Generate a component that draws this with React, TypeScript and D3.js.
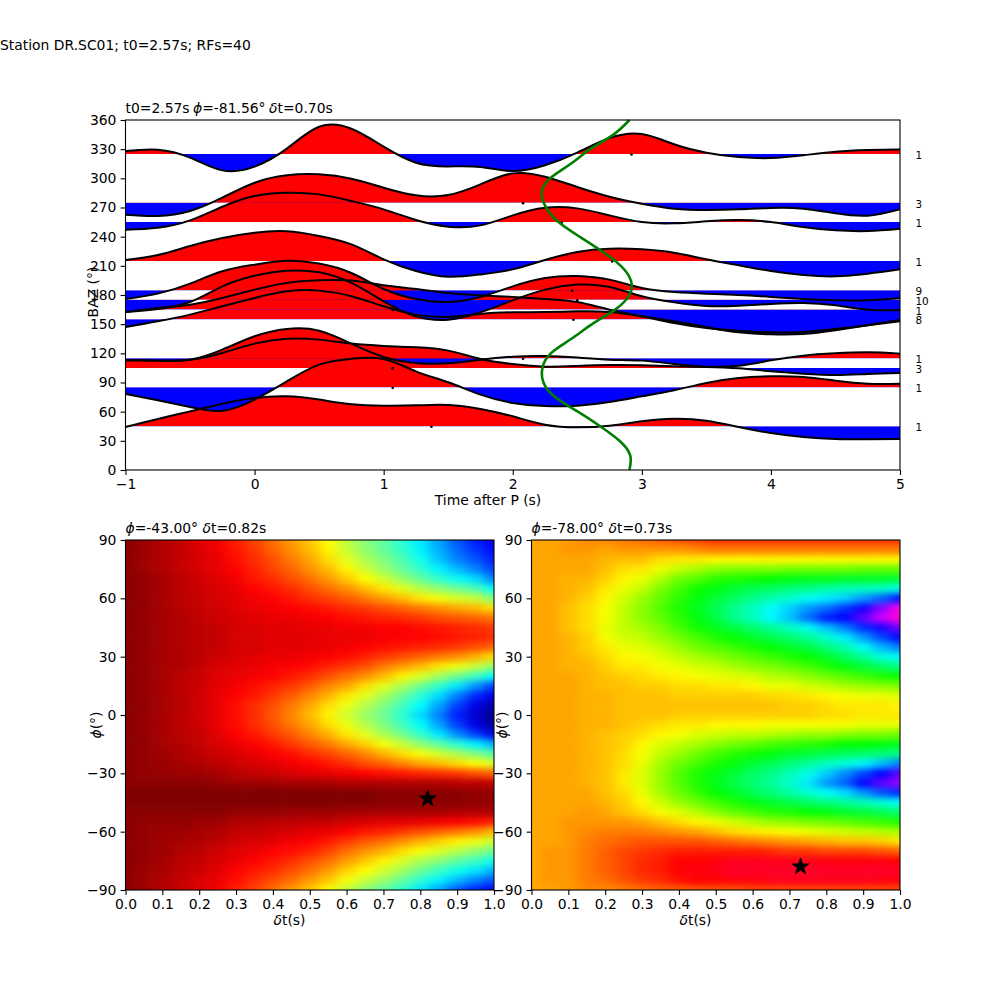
import { useEffect, useRef } from 'react';
import * as d3 from 'd3';

// time knots shared by all the traces
const traceTimes = [-1, -0.75, -0.5, -0.25, 0, 0.25, 0.5, 0.75, 1, 1.25, 1.5, 1.75, 2, 2.25, 2.5, 2.75, 3, 3.25, 3.5, 3.75, 4, 4.25, 4.5, 4.75, 5];

const traceBaz = [45, 85, 105, 115, 155, 165, 175, 185, 215, 255, 275, 325];
const traceCounts = [1, 1, 3, 1, 8, 1, 10, 9, 1, 1, 3, 1];
const traceDotTimes = [1.37, 1.07, 1.07, 2.08, 2.47, 1.07, 2.5, 2.46, 2.77, 2.38, 2.08, 2.92];

const trace45 = [44.2, 52.5, 60.3, 68.2, 74.1, 75.8, 72.4, 67.6, 66.2, 66.5, 66.9, 62.8, 55.2, 46.6, 43.9, 45.6, 50.1, 52.8, 50.7, 44.2, 38, 33.9, 31.9, 31.6, 31.9];
const trace85 = [78.2, 71.7, 64.8, 61, 72.4, 91.2, 108.4, 114.5, 114.2, 101.5, 90.2, 77.5, 68.9, 65.8, 66.2, 70, 75.8, 82, 89.5, 94.6, 96.4, 95.7, 91.9, 88.8, 88.8];
const trace105 = [112.8, 112.5, 113.5, 120.4, 130, 135.1, 134.1, 130, 127.6, 126.2, 122.8, 114.2, 109, 106.3, 107, 108, 107.7, 106.6, 106, 104.6, 101.5, 99.1, 97.7, 98.8, 99.8];
const trace115 = [112.8, 112.5, 113.5, 123.8, 137.5, 145, 143.3, 129.9, 116.2, 110.1, 109.7, 113.5, 116.6, 117.3, 115.6, 113.5, 112.5, 109, 106.3, 107.3, 112.8, 117.6, 120, 121, 119.7];
const trace155 = [147.1, 152.9, 159.8, 168.4, 176.9, 183.8, 184.5, 178.7, 168.4, 159.8, 157.4, 160.5, 162.2, 162.5, 163.2, 162.5, 158.1, 152.9, 147.1, 141.6, 139.6, 139.9, 143.7, 148.8, 154.3];
const trace165 = [162.5, 166.6, 170, 176.9, 185.5, 192.4, 195.1, 194.8, 190, 186.2, 182.1, 179.7, 178, 175.9, 172.8, 164.9, 158.1, 151.2, 146.1, 143.3, 141.6, 142, 145, 148.8, 152.9];
const trace175 = [162.5, 165.6, 172.8, 188.9, 199.9, 205, 203.3, 192.4, 173.5, 158.1, 154.6, 162.2, 174.5, 185.5, 190.7, 188.3, 178.7, 172.5, 168.7, 169, 170.8, 171.8, 169.4, 164.9, 164.3];
const trace185 = [175.9, 181.4, 191.7, 204.4, 211.2, 215.3, 212.3, 202.6, 186.2, 175.9, 172.8, 178, 188.9, 197.5, 199.6, 195.8, 187.2, 183.1, 181.4, 180, 178, 175.9, 174.5, 174.5, 176.6];
const trace215 = [216, 221.1, 230.4, 238.6, 244.1, 245.5, 240.7, 232.1, 216.7, 204.7, 198.8, 201.2, 206.4, 216, 224.2, 227.6, 227, 223.5, 216.7, 210.5, 204.7, 200.6, 199.2, 201.9, 206.4];
const trace255 = [247.2, 249.2, 256.8, 270.8, 281.8, 285.2, 283.5, 276.7, 268.1, 257.1, 250.3, 251.6, 261.9, 269.8, 269.1, 261.9, 255, 253.7, 255.8, 257.1, 255, 249.9, 246.5, 245.8, 248.2];
const trace275 = [262.6, 261.2, 266.4, 280.1, 295.5, 303.1, 304.1, 299.6, 290.4, 282.5, 282.8, 293.8, 305.1, 301.7, 291.1, 281.1, 273.9, 268.8, 267.4, 268.1, 269.5, 268.8, 264, 261.6, 268.1];
const trace325 = [328.1, 329.5, 321.3, 308.2, 312, 330.6, 353, 351, 332.6, 316.1, 312.3, 311.7, 307.5, 313.4, 326.4, 341.5, 345.6, 335, 326.4, 321.9, 320.9, 323.7, 327.4, 329.1, 329.8];
const traces = [trace45, trace85, trace105, trace115, trace155, trace165, trace175, trace185, trace215, trace255, trace275, trace325];

// predicted arrival curve
const curveBaz = [0, 15, 30, 45, 60, 75, 90, 105, 120, 135, 150, 165, 180, 195, 210, 225, 240, 255, 270, 285, 300, 315, 330, 345, 360];
const curveTime = [2.904, 2.91, 2.827, 2.677, 2.504, 2.328, 2.238, 2.23, 2.295, 2.455, 2.615, 2.793, 2.904, 2.915, 2.837, 2.69, 2.517, 2.354, 2.258, 2.225, 2.289, 2.45, 2.6, 2.78, 2.904];

// energy grids: one column per delay, rows run from phi=90 down to phi=-90
const gridDelays = d3.range(21).map((i) => i * 0.05);
const gridPhis = d3.range(37).map((i) => 90 - i * 5);

const gridLeft = [
  [1, 1, 1, 1, 1, 1, 1, 1, 1, 1, 1, 1, 1, 1, 1, 1, 1, 1, 1, 1, 1, 1, 1, 1, 1, 1, 0, 0, 1, 1, 1, 1, 1, 1, 1, 1, 1],
  [3, 3, 3, 3, 2, 2, 2, 2, 2, 2, 2, 2, 2, 2, 2, 2, 2, 2, 2, 2, 2, 2, 2, 2, 2, 1, 0, 0, 1, 2, 2, 2, 2, 2, 3, 3, 3],
  [5, 5, 5, 5, 4, 4, 4, 4, 4, 4, 4, 4, 4, 4, 4, 4, 4, 4, 4, 4, 4, 4, 3, 3, 2, 1, 0, 0, 1, 2, 3, 3, 3, 4, 4, 5, 5],
  [7, 7, 7, 7, 6, 6, 6, 6, 5, 5, 5, 5, 5, 5, 6, 6, 6, 6, 6, 6, 6, 5, 5, 4, 3, 1, 0, 0, 1, 2, 3, 4, 5, 6, 6, 7, 7],
  [10, 9, 9, 9, 8, 8, 7, 7, 7, 6, 6, 6, 6, 7, 7, 8, 8, 8, 8, 8, 7, 7, 6, 5, 3, 1, 0, 0, 1, 3, 4, 5, 6, 7, 8, 9, 10],
  [12, 12, 11, 11, 10, 9, 9, 8, 8, 7, 7, 7, 8, 9, 10, 10, 11, 11, 11, 11, 10, 9, 8, 6, 4, 2, 0, 0, 1, 3, 5, 6, 8, 9, 10, 11, 12],
  [16, 15, 14, 13, 12, 11, 10, 10, 9, 9, 9, 9, 9, 10, 11, 12, 13, 14, 14, 14, 13, 11, 9, 8, 6, 3, 0, 0, 2, 5, 7, 8, 10, 11, 13, 14, 16],
  [19, 18, 17, 16, 15, 13, 12, 11, 10, 9, 9, 9, 10, 11, 12, 14, 15, 17, 17, 17, 15, 13, 11, 9, 7, 3, 0, 0, 2, 5, 7, 9, 11, 13, 15, 17, 19],
  [23, 22, 20, 19, 17, 15, 13, 12, 11, 10, 10, 10, 11, 12, 13, 16, 18, 20, 21, 20, 18, 15, 13, 10, 8, 3, 0, 0, 2, 6, 8, 10, 13, 15, 17, 20, 23],
  [27, 26, 24, 22, 20, 17, 15, 13, 11, 10, 10, 10, 11, 13, 15, 18, 21, 24, 25, 24, 21, 18, 14, 12, 9, 4, 0, 0, 3, 6, 9, 12, 14, 17, 20, 23, 27],
  [31, 30, 28, 26, 23, 20, 17, 14, 12, 11, 10, 11, 12, 14, 17, 21, 25, 28, 30, 28, 25, 21, 17, 13, 10, 4, 0, 0, 3, 7, 10, 13, 16, 20, 23, 27, 31],
  [36, 35, 33, 30, 27, 23, 19, 15, 13, 11, 11, 11, 13, 16, 20, 25, 29, 33, 35, 33, 29, 24, 19, 15, 11, 4, 0, 0, 3, 7, 11, 15, 19, 23, 27, 31, 36],
  [43, 42, 39, 35, 31, 26, 21, 17, 14, 12, 11, 12, 14, 18, 23, 28, 34, 38, 41, 38, 34, 28, 22, 17, 12, 5, 0, 0, 4, 8, 13, 18, 23, 27, 32, 37, 43],
  [49, 48, 45, 41, 36, 30, 24, 18, 15, 12, 11, 13, 16, 20, 26, 33, 39, 44, 47, 44, 39, 32, 25, 20, 13, 5, 0, 0, 4, 9, 15, 21, 26, 31, 36, 42, 49],
  [54, 53, 50, 47, 41, 34, 27, 20, 16, 13, 12, 14, 18, 24, 30, 39, 45, 50, 52, 50, 45, 37, 29, 22, 14, 5, 1, 1, 4, 10, 16, 23, 29, 35, 41, 47, 54],
  [60, 59, 56, 53, 47, 39, 30, 22, 17, 13, 13, 15, 20, 27, 35, 45, 52, 57, 60, 57, 51, 42, 33, 25, 15, 5, 1, 1, 4, 10, 18, 26, 33, 40, 46, 53, 60],
  [67, 66, 63, 59, 53, 44, 34, 24, 18, 14, 13, 16, 22, 30, 40, 52, 60, 65, 68, 65, 59, 48, 37, 28, 16, 5, 1, 1, 4, 11, 20, 29, 37, 45, 52, 60, 67],
  [73, 72, 70, 66, 59, 48, 37, 26, 20, 15, 14, 17, 24, 34, 46, 59, 68, 73, 76, 73, 67, 54, 41, 30, 17, 5, 1, 1, 4, 12, 22, 32, 40, 49, 58, 66, 73],
  [80, 78, 76, 71, 64, 52, 40, 28, 21, 16, 15, 18, 26, 38, 52, 67, 76, 82, 85, 82, 75, 60, 45, 33, 18, 6, 1, 1, 5, 13, 24, 35, 44, 54, 63, 71, 80],
  [85, 83, 80, 76, 68, 56, 42, 30, 22, 17, 16, 20, 29, 42, 58, 74, 84, 90, 92, 90, 82, 66, 50, 36, 20, 6, 2, 2, 5, 14, 26, 38, 48, 58, 67, 76, 85],
  [89, 87, 85, 82, 76, 65, 50, 33, 24, 18, 17, 22, 33, 48, 65, 82, 90, 96, 99, 97, 90, 72, 55, 40, 22, 7, 2, 2, 5, 16, 30, 42, 52, 63, 72, 80, 89],
];

const gridRight = [
  [15, 15, 15, 15, 15, 15, 15, 15, 15, 15, 15, 15, 15, 15, 15, 15, 15, 15, 15, 15, 15, 15, 15, 15, 15, 15, 15, 15, 15, 15, 15, 15, 15, 15, 15, 15, 15],
  [15, 15, 15, 15, 15, 15, 15, 15, 15, 15, 15, 15, 15, 15, 15, 15, 15, 15, 15, 15, 15, 15, 15, 15, 15, 15, 15, 15, 15, 15, 15, 15, 14, 14, 14, 14, 15],
  [14, 14, 15, 15, 16, 16, 16, 17, 17, 17, 16, 16, 16, 16, 15, 15, 15, 15, 15, 15, 15, 15, 15, 15, 15, 15, 15, 15, 15, 14, 14, 14, 14, 14, 14, 14, 14],
  [13, 14, 15, 15, 16, 17, 18, 19, 19, 19, 18, 18, 17, 16, 16, 16, 16, 16, 16, 16, 16, 16, 16, 16, 16, 16, 15, 15, 14, 14, 13, 12, 12, 12, 12, 12, 13],
  [13, 15, 16, 17, 18, 20, 21, 22, 22, 23, 22, 20, 19, 18, 17, 17, 16, 16, 16, 16, 17, 17, 17, 17, 17, 17, 17, 16, 15, 14, 12, 11, 10, 10, 10, 11, 13],
  [12, 14, 17, 19, 21, 23, 25, 26, 26, 26, 25, 23, 21, 20, 18, 17, 17, 17, 17, 17, 18, 18, 19, 19, 20, 20, 19, 18, 17, 14, 12, 10, 8, 8, 8, 9, 12],
  [11, 14, 17, 20, 23, 26, 29, 30, 30, 28, 26, 24, 22, 20, 19, 18, 17, 17, 17, 18, 19, 21, 22, 23, 24, 24, 23, 21, 19, 15, 12, 9, 7, 6, 6, 7, 11],
  [10, 14, 19, 23, 27, 31, 33, 34, 33, 31, 29, 26, 24, 22, 20, 18, 17, 17, 17, 19, 21, 24, 26, 28, 29, 29, 28, 25, 22, 17, 13, 9, 6, 5, 5, 6, 10],
  [9, 14, 20, 26, 32, 35, 37, 38, 37, 35, 32, 29, 26, 23, 21, 19, 18, 17, 18, 20, 22, 26, 29, 32, 34, 34, 32, 29, 24, 19, 14, 9, 5, 3, 3, 4, 10],
  [8, 13, 20, 28, 34, 39, 41, 42, 41, 39, 35, 32, 28, 25, 22, 19, 18, 17, 18, 20, 24, 28, 32, 35, 38, 38, 36, 32, 27, 21, 15, 9, 5, 3, 2, 3, 9],
  [7, 12, 21, 30, 37, 41, 44, 46, 45, 42, 38, 34, 30, 26, 23, 20, 18, 17, 18, 21, 25, 30, 35, 38, 41, 42, 40, 35, 30, 23, 17, 10, 5, 2, 1, 3, 9],
  [7, 12, 21, 31, 38, 44, 47, 50, 50, 45, 40, 36, 32, 28, 24, 20, 18, 17, 18, 21, 26, 32, 37, 41, 44, 45, 43, 38, 33, 25, 19, 11, 5, 1, 0, 2, 9],
  [7, 12, 21, 31, 39, 46, 50, 54, 54, 48, 43, 38, 34, 30, 25, 21, 18, 17, 18, 21, 26, 33, 39, 44, 47, 48, 46, 41, 35, 27, 20, 12, 5, 1, 0, 2, 8],
  [7, 12, 21, 31, 40, 47, 53, 58, 59, 51, 46, 40, 36, 31, 27, 23, 19, 17, 18, 22, 27, 35, 41, 46, 50, 51, 49, 43, 37, 29, 21, 13, 6, 1, 0, 1, 8],
  [7, 12, 21, 32, 41, 49, 55, 62, 63, 54, 48, 43, 38, 33, 28, 23, 19, 18, 18, 22, 28, 36, 43, 49, 53, 55, 52, 45, 38, 30, 22, 14, 7, 1, 0, 1, 8],
  [7, 12, 21, 32, 42, 50, 58, 66, 69, 58, 51, 45, 40, 35, 30, 25, 20, 18, 18, 22, 29, 37, 44, 51, 57, 60, 55, 47, 40, 31, 23, 15, 7, 1, 0, 1, 8],
  [7, 12, 21, 32, 42, 52, 60, 69, 75, 63, 55, 49, 43, 38, 32, 26, 21, 19, 19, 22, 29, 38, 46, 54, 62, 66, 58, 49, 41, 32, 24, 16, 8, 2, 0, 1, 8],
  [7, 12, 21, 32, 43, 53, 62, 73, 77, 68, 60, 53, 47, 41, 34, 28, 22, 20, 19, 22, 30, 40, 47, 56, 67, 70, 61, 51, 43, 33, 25, 17, 8, 2, 0, 1, 8],
  [7, 12, 21, 33, 43, 54, 66, 78, 84, 74, 66, 58, 51, 44, 36, 29, 23, 20, 20, 23, 31, 40, 48, 59, 72, 77, 66, 53, 44, 35, 26, 17, 8, 2, 0, 1, 8],
  [7, 12, 21, 33, 43, 55, 70, 87, 92, 79, 72, 64, 56, 47, 38, 30, 23, 20, 20, 23, 31, 41, 49, 63, 77, 84, 71, 56, 46, 36, 27, 18, 9, 2, 0, 2, 8],
  [7, 12, 21, 33, 44, 57, 76, 97, 99, 86, 77, 68, 59, 50, 40, 31, 24, 21, 20, 23, 32, 42, 50, 68, 84, 88, 74, 58, 48, 38, 28, 20, 10, 3, 0, 2, 8],
];

const titleTop = [['t0=2.57s ', false], ['\u03d5', true], ['=-81.56\u00b0 ', false], ['\u03b4', true], ['t=0.70s', false]];
const titleLeft = [['\u03d5', true], ['=-43.00\u00b0 ', false], ['\u03b4', true], ['t=0.82s', false]];
const titleRight = [['\u03d5', true], ['=-78.00\u00b0 ', false], ['\u03b4', true], ['t=0.73s', false]];

const FONT = '"DejaVu Sans"';

const jetR = d3
  .scaleLinear<string>()
  .domain([0, 0.13, 0.36, 0.5, 0.65, 0.875, 1].map((d) => d * 100))
  .range(['#800000', '#ff0000', '#ffff00', '#80ff80', '#00ffff', '#0000ff', '#000080'])
  .clamp(true);

const gistRainbow = d3
  .scaleLinear<string>()
  .domain([0, 0.03, 0.215, 0.4, 0.586, 0.77, 0.954, 1].map((d) => d * 100))
  .range(['#ff0029', '#ff0000', '#ffff00', '#00ff00', '#00ffff', '#0000ff', '#ff00ff', '#ff00bf'])
  .clamp(true);

type Sel = d3.Selection<SVGSVGElement, unknown, null, undefined>;

function addTitle(svg: Sel, x: number, y: number, parts: (string | boolean)[][], wordSpacing = 0) {
  const t = svg
    .append('text')
    .attr('x', x)
    .attr('y', y)
    .attr('font-family', FONT)
    .attr('font-size', 13.9)
    .attr('word-spacing', wordSpacing)
    .style('white-space', 'pre');
  parts.forEach(([s, it]) => {
    t.append('tspan').attr('font-style', it ? 'italic' : 'normal').text(s as string);
  });
}

function addAxes(svg: Sel, x: d3.ScaleLinear<number, number>, y: d3.ScaleLinear<number, number>, xTicks: number[], yTicks: number[], xFmt: (d: number) => string) {
  const minus = (s: string) => s.replace('-', '\u2212');
  const [y0] = y.range();
  const [x0] = x.range();
  const gx = svg
    .append('g')
    .attr('transform', `translate(0,${y0})`)
    .call(d3.axisBottom(x).tickValues(xTicks).tickSize(4.9).tickPadding(4.2).tickSizeOuter(0).tickFormat((d) => minus(xFmt(d as number))));
  const gy = svg
    .append('g')
    .attr('transform', `translate(${x0},0)`)
    .call(d3.axisLeft(y).tickValues(yTicks).tickSize(4.9).tickPadding(4.2).tickSizeOuter(0).tickFormat((d) => minus(String(d))));
  [gx, gy].forEach((g) => {
    g.attr('font-family', FONT).attr('font-size', 13.9);
    g.selectAll('line').attr('stroke', '#000').attr('stroke-width', 1.1);
    g.selectAll('text').attr('fill', '#000');
    g.select('.domain').remove();
  });
  svg
    .append('rect')
    .attr('x', x.range()[0])
    .attr('y', y.range()[1])
    .attr('width', x.range()[1] - x.range()[0])
    .attr('height', y.range()[0] - y.range()[1])
    .attr('fill', 'none')
    .attr('stroke', '#000')
    .attr('stroke-width', 1.1);
}

function addLabel(svg: Sel, cx: number, cy: number, parts: (string | boolean)[][], rotate = false) {
  const t = svg
    .append('text')
    .attr('text-anchor', 'middle')
    .attr('font-family', FONT)
    .attr('font-size', 13.9)
    .attr('transform', `translate(${cx},${cy})${rotate ? ' rotate(-90)' : ''}`);
  parts.forEach(([s, it]) => {
    t.append('tspan').attr('font-style', it ? 'italic' : 'normal').text(s as string);
  });
}

function drawHeat(svg: Sel, id: string, left: number, right: number, grid: number[][], color: (v: number) => string, star: number[]) {
  const x = d3.scaleLinear().domain([0, 1]).range([left, right]);
  const y = d3.scaleLinear().domain([-90, 90]).range([890, 540]);
  const dtHalf = 0.025;
  const phiHalf = 2.5;

  const defs = svg.append('defs');
  defs
    .append('clipPath')
    .attr('id', `clip-${id}`)
    .append('rect')
    .attr('x', left)
    .attr('y', 540)
    .attr('width', right - left)
    .attr('height', 350);
  const filter = defs
    .append('filter')
    .attr('id', `blur-${id}`)
    .attr('filterUnits', 'userSpaceOnUse')
    .attr('x', left - 60)
    .attr('y', 480)
    .attr('width', right - left + 120)
    .attr('height', 470)
    .attr('color-interpolation-filters', 'sRGB');
  filter.append('feGaussianBlur').attr('stdDeviation', '6 3');

  const cells = svg
    .append('g')
    .attr('clip-path', `url(#clip-${id})`)
    .append('g')
    .attr('filter', `url(#blur-${id})`);

  // edge cells run past the frame so the blur has something to pull in
  const pad = 40;
  grid.forEach((col, i) => {
    col.forEach((v, j) => {
      const x0 = x(gridDelays[i] - dtHalf) - (i === 0 ? pad : 0);
      const x1 = x(gridDelays[i] + dtHalf) + (i === grid.length - 1 ? pad : 0);
      const y0 = y(gridPhis[j] + phiHalf) - (j === 0 ? pad : 0);
      const y1 = y(gridPhis[j] - phiHalf) + (j === col.length - 1 ? pad : 0);
      cells
        .append('rect')
        .attr('x', x0)
        .attr('y', y0)
        .attr('width', x1 - x0 + 0.5)
        .attr('height', y1 - y0 + 0.5)
        .attr('fill', color(v));
    });
  });

  svg
    .append('path')
    .attr('d', d3.symbol().type(d3.symbolStar).size(85)())
    .attr('transform', `translate(${x(star[0])},${y(star[1])})`)
    .attr('fill', '#000')
    .attr('stroke', '#000')
    .attr('stroke-width', 1);

  addAxes(svg, x, y, d3.range(11).map((d) => d / 10), d3.range(-90, 91, 30), (d) => d.toFixed(1));
}

export default function App() {
  const svgRef = useRef<SVGSVGElement>(null);

  useEffect(() => {
    if (!svgRef.current) return;
    const svg = d3.select(svgRef.current);
    svg.selectAll('*').remove();

    svg
      .append('text')
      .attr('x', 0)
      .attr('y', 50)
      .attr('font-family', FONT)
      .attr('font-size', 13.9)
      .text('Station DR.SC01; t0=2.57s; RFs=40');

    // top panel
    const x = d3.scaleLinear().domain([-1, 5]).range([125.5, 900]);
    const y = d3.scaleLinear().domain([0, 360]).range([470, 120]);
    const defs = svg.append('defs');

    const area = (base: number) =>
      d3
        .area<number>()
        .x((_, i) => x(traceTimes[i]))
        .y0(y(base))
        .y1((d) => y(d))
        .curve(d3.curveNatural);
    const line = d3
      .line<number>()
      .x((_, i) => x(traceTimes[i]))
      .y((d) => y(d))
      .curve(d3.curveNatural);

    traces.forEach((tr, i) => {
      const base = traceBaz[i];
      const up = `up-${base}`;
      const down = `down-${base}`;
      defs.append('clipPath').attr('id', up).append('rect').attr('x', x(-1)).attr('width', x(5) - x(-1)).attr('y', y(360)).attr('height', y(base) - y(360));
      defs.append('clipPath').attr('id', down).append('rect').attr('x', x(-1)).attr('width', x(5) - x(-1)).attr('y', y(base)).attr('height', y(0) - y(base));
      svg.append('path').attr('d', area(base)(tr)).attr('fill', '#ff0000').attr('clip-path', `url(#${up})`);
      svg.append('path').attr('d', area(base)(tr)).attr('fill', '#0000ff').attr('clip-path', `url(#${down})`);
    });

    traces.forEach((tr) => {
      svg.append('path').attr('d', line(tr)).attr('fill', 'none').attr('stroke', '#000').attr('stroke-width', 2);
    });

    svg
      .selectAll('.dot')
      .data(traceBaz)
      .enter()
      .append('circle')
      .attr('cx', (_, i) => x(traceDotTimes[i]))
      .attr('cy', (d) => y(d) + 0.5)
      .attr('r', 1.3)
      .attr('fill', '#000');

    const arrival = d3
      .line<number>()
      .x((d) => x(d))
      .y((_, i) => y(curveBaz[i]))
      .curve(d3.curveNatural);
    svg.append('path').attr('d', arrival(curveTime)).attr('fill', 'none').attr('stroke', '#008000').attr('stroke-width', 2.6);

    svg
      .selectAll('.count')
      .data(traceCounts)
      .enter()
      .append('text')
      .attr('x', 915.5)
      .attr('y', (_, i) => y(traceBaz[i]) + 5)
      .attr('font-family', FONT)
      .attr('font-size', 10.4)
      .text((d) => d);

    addAxes(svg, x, y, d3.range(-1, 6), d3.range(0, 361, 30), (d) => String(d));
    addTitle(svg, 125.5, 113, titleTop, -1);
    addLabel(svg, 488, 505, [['Time after P (s)', false]]);
    addLabel(svg, 98, 292, [['BAZ (\u00b0)', false]], true);

    // bottom panels
    drawHeat(svg, 'left', 125.5, 494, gridLeft, jetR, [0.82, -43]);
    addTitle(svg, 125.5, 533, titleLeft);
    addLabel(svg, 289.5, 925, [['\u03b4', true], ['t(s)', false]]);
    addLabel(svg, 101, 725, [['\u03d5', true], ['(\u00b0)', false]], true);

    drawHeat(svg, 'right', 531.5, 900, gridRight, gistRainbow, [0.73, -78]);
    addTitle(svg, 531.5, 533, titleRight);
    addLabel(svg, 695.5, 925, [['\u03b4', true], ['t(s)', false]]);
    addLabel(svg, 507, 725, [['\u03d5', true], ['(\u00b0)', false]], true);
  }, []);

  return <svg ref={svgRef} width={1000} height={1000} style={{ position: 'absolute', left: 0, top: 0, background: '#fff' }} />;
}
